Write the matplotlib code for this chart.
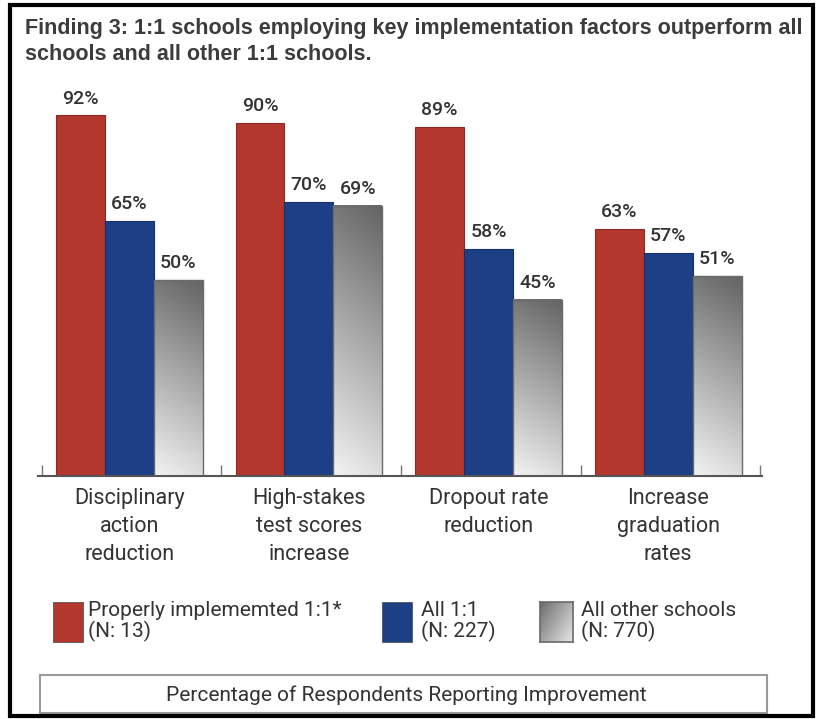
import numpy as np
import matplotlib.pyplot as plt
from matplotlib.patches import Rectangle

# data
categories = ["Disciplinary\naction\nreduction",
              "High-stakes\ntest scores\nincrease",
              "Dropout rate\nreduction",
              "Increase\ngraduation\nrates"]
proper = [92, 90, 89, 63]
all11 = [65, 70, 58, 57]
others = [50, 69, 45, 51]
series_names = ["Properly implememted 1:1*\n(N: 13)",
                "All 1:1\n(N: 227)",
                "All other schools\n(N: 770)"]
title = ("Finding 3: 1:1 schools employing key implementation factors outperform all\n"
         "schools and all other 1:1 schools.")
footer = "Percentage of Respondents Reporting Improvement"

RED = "#b3372d"
BLUE = "#1c3f86"
TXT = "#333333"
lab_font = ["Roboto", "DejaVu Sans"]

W, H = 817, 719
fig = plt.figure(figsize=(W / 100, H / 100), dpi=100)
fig.patch.set_facecolor("white")


def fx(px):
    return px / W


def fy(py):
    return 1 - py / H


# outer frame
fig.patches.append(Rectangle((fx(10), fy(716)), fx(813) - fx(10), fy(5) - fy(716),
                             transform=fig.transFigure, fill=False,
                             edgecolor="black", linewidth=3, zorder=10))

fig.text(fx(25), fy(18), title, ha="left", va="top", fontsize=15.5,
         fontweight="bold", color="#3c3c3c", family="Liberation Sans",
         linespacing=1.3)

ax = fig.add_axes([fx(38), fy(476), fx(762) - fx(38), fy(84) - fy(476)])
x = np.arange(len(categories))
bw = 0.272
off = -0.012
b1 = ax.bar(x - bw + off, proper, bw, color=RED, edgecolor="#8a2a22", linewidth=0.8, zorder=2)
b2 = ax.bar(x + off, all11, bw, color=BLUE, edgecolor="#15306a", linewidth=0.8, zorder=2)
b3 = ax.bar(x + bw + off, others, bw, color="none", edgecolor="#6a6a6a", linewidth=1.0, zorder=3)

# vertical + horizontal gradient for the grey bars
gy = np.linspace(1, 0, 100)[:, None]
gx = np.linspace(0, 1, 40)[None, :]
grad = 0.95 - 0.48 * gy - 0.08 * gx
for r in b3:
    x0, w, h = r.get_x(), r.get_width(), r.get_height()
    ax.imshow(grad, extent=[x0, x0 + w, 0, h], aspect="auto", cmap="gray",
              vmin=0, vmax=1, zorder=2, interpolation="bilinear")

for bars in (b1, b2, b3):
    for r in bars:
        ax.text(r.get_x() + r.get_width() / 2, r.get_height() + 2.0,
                f"{r.get_height():.0f}%", ha="center", va="bottom",
                fontsize=14, color=TXT, family=lab_font, fontweight="medium")

ax.set_xlim(-0.52, 3.51)
ax.set_ylim(0, 100)
for s in ("top", "right", "left"):
    ax.spines[s].set_visible(False)
ax.spines["bottom"].set_color("#555555")
ax.spines["bottom"].set_linewidth(1.5)
ax.set_yticks([])
ax.set_xticks(np.arange(-0.5, 4, 1.0))
ax.tick_params(axis="x", direction="in", length=8, width=1, color="#777777", labelbottom=False)
for i, c in enumerate(categories):
    ax.text(i + off, -3.0, c, ha="center", va="top", fontsize=15.5, color=TXT,
            family=lab_font, linespacing=1.45)

# legend
sw = [(53, RED, 88), (382, BLUE, 421), (540, None, 581)]
for (px, col, tx), name in zip(sw, series_names):
    if col is None:
        sax = fig.add_axes([fx(px), fy(642), fx(573) - fx(540), fy(602) - fy(642)])
        g = 0.9 - 0.45 * np.linspace(1, 0, 30)[None, :] * 0.6 - 0.2 * np.linspace(1, 0, 30)[:, None]
        sax.imshow(g, cmap="gray", vmin=0, vmax=1, aspect="auto", interpolation="bilinear")
        sax.set_xticks([])
        sax.set_yticks([])
        for s in sax.spines.values():
            s.set_color("#6a6a6a")
            s.set_linewidth(1.2)
    else:
        fig.patches.append(Rectangle((fx(px), fy(642)), fx(30), fy(602) - fy(642),
                                     transform=fig.transFigure, facecolor=col,
                                     edgecolor="#555555", linewidth=0.6))
    fig.text(fx(tx), fy(601), name, ha="left", va="top", fontsize=15, color=TXT,
             family=lab_font, linespacing=1.05)

fig.patches.append(Rectangle((fx(40), fy(713)), fx(767) - fx(40), fy(675) - fy(713),
                             transform=fig.transFigure, fill=False,
                             edgecolor="#9a9a9a", linewidth=1.5))
fig.text(fx(406), fy(695), footer, ha="center", va="center", fontsize=15,
         color=TXT, family=lab_font)

fig.savefig("out.png", dpi=100)
